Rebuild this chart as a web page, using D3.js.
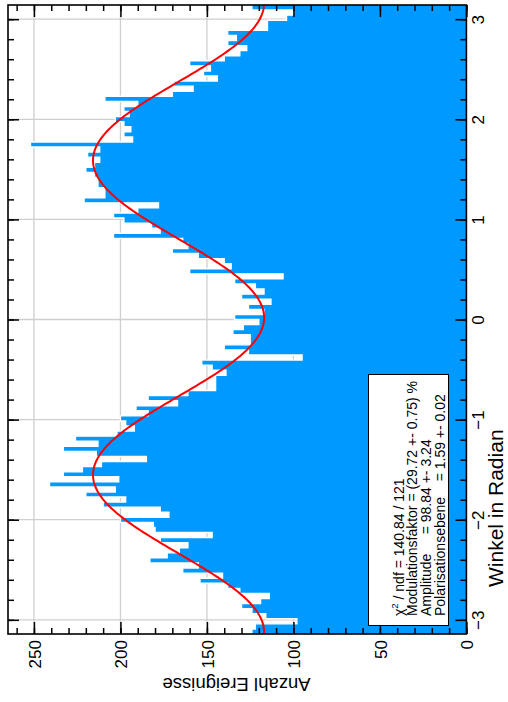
<!DOCTYPE html>
<html>
<head>
<meta charset="utf-8">
<script src="https://cdn.jsdelivr.net/npm/d3@7"></script>
<style>
  body { margin: 0; background: #fff; }
  text { font-family: "Liberation Sans", Arial, Helvetica, sans-serif; }
</style>
</head>
<body>
<svg id="chart" width="508" height="702"></svg>
<script>
// histogram contents, 124 equal bins between -pi and pi
const binCounts = [
  124, 122, 98, 116, 124, 130, 119, 114, 131, 138,
  154, 141, 164, 155, 183, 173, 166, 161, 177, 147,
  180, 181, 200, 172, 177, 210, 197, 220, 203, 241,
  201, 233, 222, 211, 185, 214, 233, 213, 226, 202,
  192, 197, 200, 184, 191, 167, 184, 161, 145, 145,
  145, 139, 147, 153, 95, 126, 140, 125, 125, 135,
  129, 120, 134, 117, 126, 113, 130, 117, 122, 134,
  106, 160, 136, 140, 155, 170, 161, 164, 204, 177,
  182, 198, 204, 190, 178, 221, 209, 209, 213, 213,
  215, 220, 215, 212, 219, 212, 252, 193, 198, 194,
  198, 203, 195, 198, 190, 209, 170, 158, 169, 144,
  152, 148, 160, 140, 131, 127, 138, 133, 138, 115,
  115, 104, 100, 124
];
const angleRange = [-Math.PI, Math.PI];
const angleTicks = [-3, -2, -1, 0, 1, 2, 3];
const countTicks = [0, 50, 100, 150, 200, 250];

// fit results shown in the stats box
const fitModulation = 0.2972;
const fitPhase = 1.59;
const fitLevel = 166.4; // mean level of the fit curve

const statLines = [
  {chi: true, text: " / ndf = 140.84 / 121"},
  {text: "Modulationsfaktor = (29.72 +- 0.75) %"},
  {text: "Amplitude     = 98.84 +- 3.24"},
  {text: "Polarisationsebene    = 1.59 +- 0.02"}
];

const svg = d3.select("#chart");

// the whole ROOT canvas is turned by 90 degrees:
// counts run right-to-left, angle runs bottom-to-top
const x = d3.scaleLinear().domain([0, 265]).range([466.4, 8]);
const y = d3.scaleLinear().domain(angleRange).range([634, 5]);

const nb = binCounts.length;
const bw = (angleRange[1] - angleRange[0]) / nb;
const pts = binCounts.map((v, i) => ({a: angleRange[0] + i * bw, v: v}));
pts.push({a: angleRange[1], v: binCounts[nb - 1]});

// grid
svg.append("g").selectAll("line.vg")
  .data(countTicks.filter(d => d > 0))
  .join("line")
  .attr("x1", d => x(d)).attr("x2", d => x(d))
  .attr("y1", y(angleRange[1])).attr("y2", y(angleRange[0]))
  .attr("stroke", "#cfcfcf").attr("stroke-width", 1.3);
svg.append("g").selectAll("line.hg")
  .data(angleTicks)
  .join("line")
  .attr("x1", x(0)).attr("x2", x(265))
  .attr("y1", d => y(d)).attr("y2", d => y(d))
  .attr("stroke", "#cfcfcf").attr("stroke-width", 1.3);

// histogram
const area = d3.area()
  .y(d => y(d.a))
  .x0(x(0))
  .x1(d => x(d.v))
  .curve(d3.curveStepBefore);
svg.append("path").datum(pts)
  .attr("d", area)
  .attr("fill", "#0099ff");

const outline = d3.line()
  .y(d => y(d.a))
  .x(d => x(d.v))
  .curve(d3.curveStepBefore);
svg.append("path").datum(pts)
  .attr("d", outline)
  .attr("fill", "none")
  .attr("stroke", "#ffffff")
  .attr("stroke-width", 1.4);

// fit curve
const fitPts = d3.range(0, 401).map(i => {
  const a = angleRange[0] + i * (angleRange[1] - angleRange[0]) / 400;
  return {a: a, v: fitLevel * (1 + fitModulation * Math.cos(2 * (a - fitPhase)))};
});
svg.append("path").datum(fitPts)
  .attr("d", d3.line().y(d => y(d.a)).x(d => x(d.v)))
  .attr("fill", "none")
  .attr("stroke", "#ff0000")
  .attr("stroke-width", 2);

// frame
svg.append("rect")
  .attr("x", x(265)).attr("y", y(angleRange[1]))
  .attr("width", x(0) - x(265)).attr("height", y(angleRange[0]) - y(angleRange[1]))
  .attr("fill", "none").attr("stroke", "#000").attr("stroke-width", 1.6);

const minorCounts = d3.range(0, 265, 10);
const minorAngles = d3.range(-30, 31, 2).map(d => d / 10);

function ticksOnly(g) {
  g.select(".domain").remove();
  g.selectAll("line").attr("stroke-width", 1.5);
}

// count axis (bottom of picture)
const bottomAxis = svg.append("g")
  .attr("transform", `translate(0,${y(angleRange[0])})`)
  .call(d3.axisBottom(x).tickValues(countTicks).tickSize(-12).tickSizeOuter(0))
  .call(ticksOnly);
bottomAxis.selectAll("text")
  .attr("transform", "rotate(-90)")
  .attr("x", -6).attr("y", 0).attr("dy", "0.36em")
  .attr("text-anchor", "end")
  .attr("font-size", 17).attr("fill", "#000");
svg.append("g")
  .attr("transform", `translate(0,${y(angleRange[0])})`)
  .call(d3.axisBottom(x).tickValues(minorCounts).tickSize(-6).tickFormat(""))
  .call(ticksOnly);
svg.append("g")
  .attr("transform", `translate(0,${y(angleRange[1])})`)
  .call(d3.axisTop(x).tickValues(countTicks).tickSize(-12).tickFormat(""))
  .call(ticksOnly);
svg.append("g")
  .attr("transform", `translate(0,${y(angleRange[1])})`)
  .call(d3.axisTop(x).tickValues(minorCounts).tickSize(-6).tickFormat(""))
  .call(ticksOnly);

// angle axis (right of picture)
const rightAxis = svg.append("g")
  .attr("transform", `translate(${x(0)},0)`)
  .call(d3.axisRight(y).tickValues(angleTicks).tickSize(-11).tickSizeOuter(0)
    .tickFormat(d => d < 0 ? "\u2212" + Math.abs(d) : d))
  .call(ticksOnly);
rightAxis.selectAll("text")
  .attr("transform", "rotate(-90)")
  .attr("x", 0).attr("y", 17.5).attr("dy", 0)
  .attr("text-anchor", "middle")
  .attr("font-size", 17).attr("fill", "#000");
svg.append("g")
  .attr("transform", `translate(${x(0)},0)`)
  .call(d3.axisRight(y).tickValues(minorAngles).tickSize(-6).tickFormat(""))
  .call(ticksOnly);
svg.append("g")
  .attr("transform", `translate(${x(265)},0)`)
  .call(d3.axisRight(y).tickValues(angleTicks).tickSize(11).tickFormat(""))
  .call(ticksOnly);
svg.append("g")
  .attr("transform", `translate(${x(265)},0)`)
  .call(d3.axisRight(y).tickValues(minorAngles).tickSize(6).tickFormat(""))
  .call(ticksOnly);

// axis titles
svg.append("text")
  .attr("transform", "translate(503,587) rotate(-90)")
  .attr("font-size", 21)
  .text("Winkel in Radian");
svg.append("text")
  .attr("transform", "translate(236.5,678) rotate(180)")
  .attr("text-anchor", "middle")
  .attr("font-size", 18.5)
  .text("Anzahl Ereignisse");

// stats box
svg.append("rect")
  .attr("x", 368.5).attr("y", 374.5).attr("width", 80).attr("height", 251)
  .attr("fill", "#fff").attr("stroke", "#000").attr("stroke-width", 1);

const lineX = [403.5, 417.3, 431, 444.7];
const st = svg.append("g");
statLines.forEach((l, i) => {
  const t = st.append("text")
    .attr("transform", `translate(${lineX[i]},616) rotate(-90)`)
    .attr("font-size", 14)
    .style("white-space", "pre");
  if (l.chi) {
    t.append("tspan").text("\u03c7");
    t.append("tspan").attr("dy", -6).attr("font-size", 9.5).text("2");
    t.append("tspan").attr("dy", 6).text(l.text);
  } else {
    t.text(l.text);
  }
});
</script>
</body>
</html>
